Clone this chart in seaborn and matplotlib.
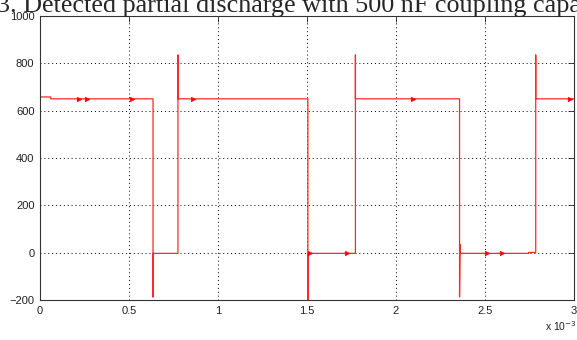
import numpy as np
import pandas as pd
import matplotlib
matplotlib.use('Agg')
import matplotlib.pyplot as plt
import seaborn as sns
from matplotlib.ticker import FuncFormatter

# waveform breakpoints (time in s, signal value)
t_wave = [0.0, 0.06e-3, 0.06e-3, 0.635e-3, 0.635e-3, 0.635e-3, 0.775e-3, 0.775e-3,
          0.775e-3, 1.505e-3, 1.505e-3, 1.505e-3, 1.772e-3, 1.772e-3, 1.772e-3,
          2.357e-3, 2.357e-3, 2.360e-3, 2.360e-3, 2.745e-3, 2.745e-3, 2.785e-3,
          2.785e-3, 2.785e-3, 3.0e-3]
v_wave = [658, 658, 650, 650, -187, -3, -3, 835,
          650, 650, -215, -3, -3, 835, 650,
          650, -187, 35, -3, -3, 1, 1,
          835, 650, 650]

# small arrow-like glitches riding on the trace
t_marks = [0.221e-3, 0.262e-3, 0.515e-3, 0.861e-3, 1.515e-3, 1.723e-3,
           2.094e-3, 2.51e-3, 2.594e-3, 2.978e-3]
v_marks = [650, 650, 650, 650, -3, -3, 650, -3, -3, 650]

xticks = [0, 0.5e-3, 1e-3, 1.5e-3, 2e-3, 2.5e-3, 3e-3]
yticks = [-200, 0, 200, 400, 600, 800, 1000]

wave = pd.DataFrame({'t': t_wave, 'v': v_wave})
marks = pd.DataFrame({'t': t_marks, 'v': v_marks})

sns.set_style('white')
plt.rcParams['font.family'] = ['Liberation Sans', 'DejaVu Sans']

fig = plt.figure(figsize=(5.77, 3.40), dpi=100)
ax = fig.add_axes([40 / 577, 1 - 300 / 340, 534 / 577, 284 / 340])

sns.lineplot(data=wave, x='t', y='v', sort=False, estimator=None, ax=ax,
             color='#ff2828', linewidth=0.9)
sns.scatterplot(data=marks, x='t', y='v', ax=ax, marker='>', s=11,
                color='red', edgecolor='red', linewidth=0.4, zorder=3)

ax.set_xlim(0, 3e-3)
ax.set_ylim(-200, 1000)
ax.set_xticks(xticks)
ax.set_yticks(yticks)
ax.xaxis.set_major_formatter(FuncFormatter(lambda v, _: f'{v * 1e3:g}'))
ax.set_xlabel('')
ax.set_ylabel('')
ax.grid(True, color='black', linestyle=(0, (1, 3)), linewidth=0.7)
ax.tick_params(direction='in', length=4, width=0.6, labelsize=8,
               top=True, right=True, colors='#222222', pad=4)
for sp in ax.spines.values():
    sp.set_color('#333333')
    sp.set_linewidth(0.8)

fig.text(545 / 577, 1 - 326 / 340, r'x 10$^{-3}$', fontsize=7.5,
         ha='left', va='center', color='#222222')

# caption of the figure, cut off at the top edge as in the source
fig.text(-0.006, 1 - 12 / 340, '3. Detected partial discharge with 500 nF coupling capacitor',
         fontsize=18.8, family='Liberation Serif', ha='left', va='baseline')

fig.savefig('out.png', dpi=100)
